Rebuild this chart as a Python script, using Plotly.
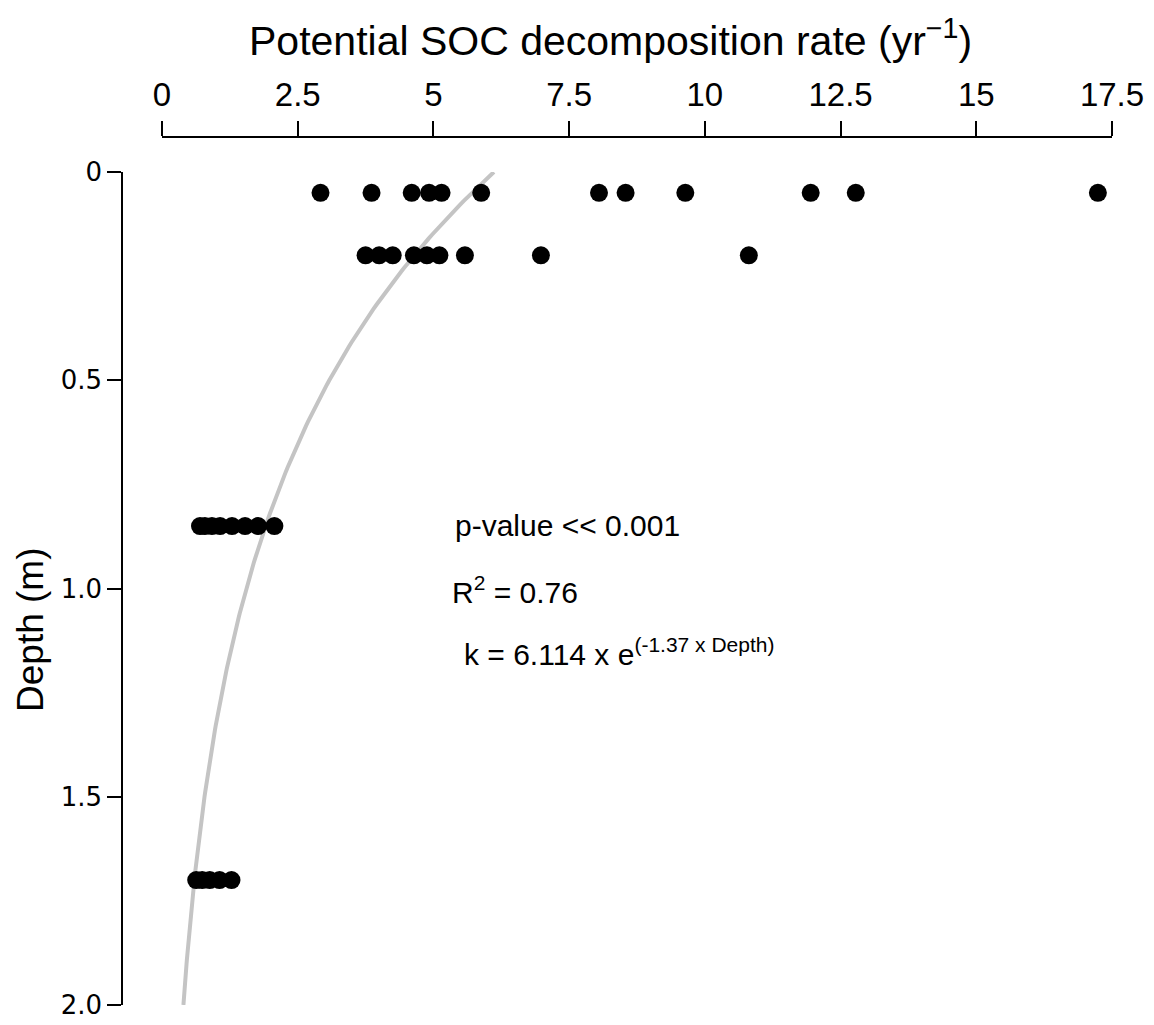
import numpy as np
import plotly.graph_objects as go

# ---- data ----
depth_levels = [0.05, 0.2, 0.85, 1.7]
rates_005 = [2.92, 3.86, 4.60, 4.92, 5.15, 5.88, 8.05, 8.54, 9.64, 11.95, 12.78, 17.24]
rates_020 = [3.75, 4.00, 4.25, 4.64, 4.88, 5.11, 5.58, 6.98, 10.81]
rates_085 = [0.70, 0.79, 0.92, 1.07, 1.29, 1.53, 1.77, 2.07]
rates_170 = [0.63, 0.74, 0.88, 1.06, 1.28]

# fitted model k = K0 * exp(-B * Depth)
K0 = 6.114
B = 1.37

x_tickvals = [0, 2.5, 5, 7.5, 10, 12.5, 15, 17.5]
x_ticktext = ["0", "2.5", "5", "7.5", "10", "12.5", "15", "17.5"]
y_tickvals = [0, 0.5, 1.0, 1.5, 2.0]
y_ticktext = ["0", "0.5", "1.0", "1.5", "2.0"]

all_rates = rates_005 + rates_020 + rates_085 + rates_170
all_depths = ([depth_levels[0]] * len(rates_005) + [depth_levels[1]] * len(rates_020)
              + [depth_levels[2]] * len(rates_085) + [depth_levels[3]] * len(rates_170))

fit_depth = np.linspace(0, 2, 201)
fit_rate = K0 * np.exp(-B * fit_depth)

# page body has an 8px margin; figure is sized to fill the rest of the window
OFF = 8
W, H = 1154 - OFF, 1025 - OFF


def PX(px):
    return (px - OFF) / W


def PY(py):
    return 1 - (py - OFF) / H


fig = go.Figure()
fig.add_trace(go.Scatter(x=fit_rate, y=fit_depth, mode="lines",
                         line=dict(color="#c4c4c4", width=4), hoverinfo="skip",
                         showlegend=False))
fig.add_trace(go.Scatter(x=all_rates, y=all_depths, mode="markers",
                         marker=dict(color="black", size=18),
                         showlegend=False, cliponaxis=False))

fig.update_layout(
    width=W, height=H,
    margin=dict(l=0, r=0, t=0, b=0),
    paper_bgcolor="white", plot_bgcolor="white",
    font=dict(family="Liberation Sans, Arial, sans-serif", color="black"),
    xaxis=dict(
        domain=[PX(162), PX(1112)], range=[0, 17.5], side="top",
        anchor="free", position=PY(137),
        showline=True, linecolor="black", linewidth=1.5,
        ticks="outside", ticklen=15, tickwidth=1.5, tickcolor="black",
        tickvals=x_tickvals, ticktext=x_ticktext,
        tickfont=dict(size=33, family="Liberation Sans, Arial, sans-serif"),
        ticklabelstandoff=2, ticklabeloverflow="allow",
        showgrid=False, zeroline=False, automargin=False,
    ),
    yaxis=dict(
        domain=[PY(1005), PY(172)], range=[2, 0],
        anchor="free", position=PX(122),
        showline=True, linecolor="black", linewidth=1.5,
        ticks="outside", ticklen=14, tickwidth=1.5, tickcolor="black",
        tickvals=y_tickvals, ticktext=y_ticktext,
        tickfont=dict(size=26, family="DejaVu Sans, Verdana, sans-serif"),
        ticklabeloverflow="allow",
        showgrid=False, zeroline=False, automargin=False,
    ),
    annotations=[
        dict(text="Potential SOC decomposition rate (yr<sup>−1</sup>)",
             xref="paper", yref="paper", x=PX(610), y=PY(38),
             xanchor="center", yanchor="middle", showarrow=False,
             font=dict(size=41)),
        dict(text="Depth (m)", xref="paper", yref="paper",
             x=PX(30), y=PY(630), textangle=-90,
             xanchor="center", yanchor="middle", showarrow=False,
             font=dict(size=37)),
        dict(text="p-value << 0.001", xref="paper", yref="paper",
             x=PX(453), y=PY(525), xanchor="left", yanchor="middle",
             showarrow=False, font=dict(size=30)),
        dict(text="R<sup>2</sup> = 0.76", xref="paper", yref="paper",
             x=PX(450), y=PY(590), xanchor="left", yanchor="middle",
             showarrow=False, font=dict(size=30)),
        dict(text="k = 6.114 x e<sup>(-1.37 x Depth)</sup>", xref="paper", yref="paper",
             x=PX(462), y=PY(652), xanchor="left", yanchor="middle",
             showarrow=False, font=dict(size=30)),
    ],
)

fig.write_html("out.html")
